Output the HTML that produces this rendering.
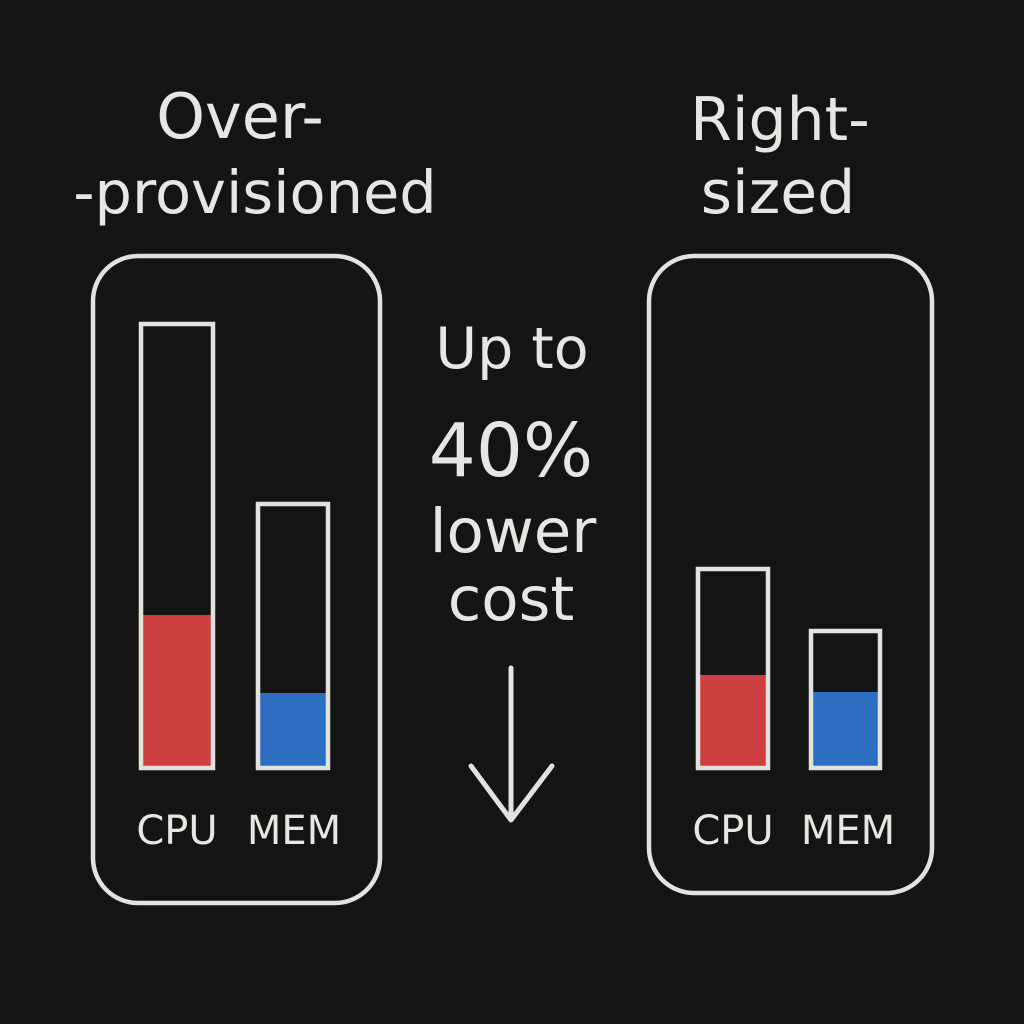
<!DOCTYPE html>
<html><head><meta charset="utf-8"><style>
html,body{margin:0;padding:0;background:#141414;}
svg{display:block}
text{font-family:"DejaVu Sans","Liberation Sans",sans-serif;fill:#e6e6e4;text-anchor:middle}
</style></head><body>
<svg width="1024" height="1024" viewBox="0 0 1024 1024">
<rect width="1024" height="1024" fill="#141414"/>
<text x="240" y="138" font-size="62">Over-</text>
<text x="255" y="213" font-size="59">-provisioned</text>
<text x="780" y="140" font-size="60">Right-</text>
<text x="778" y="213" font-size="60">sized</text>
<g fill="none" stroke="#e2e2e0" stroke-width="4.5">
<rect x="93" y="256" width="287" height="647" rx="45"/>
<rect x="649" y="256" width="283" height="637" rx="45"/>
</g>
<rect x="142" y="615" width="70" height="153" fill="#cc4040"/>
<rect x="259" y="693" width="68" height="75" fill="#2e6ec0"/>
<rect x="699" y="675" width="68" height="93" fill="#cc4040"/>
<rect x="812" y="692" width="67" height="76" fill="#2e6ec0"/>
<g fill="none" stroke="#e2e2e0" stroke-width="4.5">
<rect x="141" y="324" width="72" height="444"/>
<rect x="258" y="504" width="70" height="264"/>
<rect x="698" y="569" width="70" height="199"/>
<rect x="811" y="631" width="69" height="137"/>
<path d="M511 668 L511 820 M471 766 L511 820 L552 766" stroke-width="5" stroke-linecap="round" stroke-linejoin="round"/>
</g>
<text x="177" y="844" font-size="40">CPU</text>
<text x="294" y="844" font-size="40">MEM</text>
<text x="733" y="844" font-size="40">CPU</text>
<text x="848" y="844" font-size="40">MEM</text>
<text x="512" y="368" font-size="57">Up to</text>
<text x="511" y="476" font-size="74">40%</text>
<text x="513" y="552" font-size="61">lower</text>
<text x="511" y="620" font-size="61">cost</text>
</svg>
</body></html>
